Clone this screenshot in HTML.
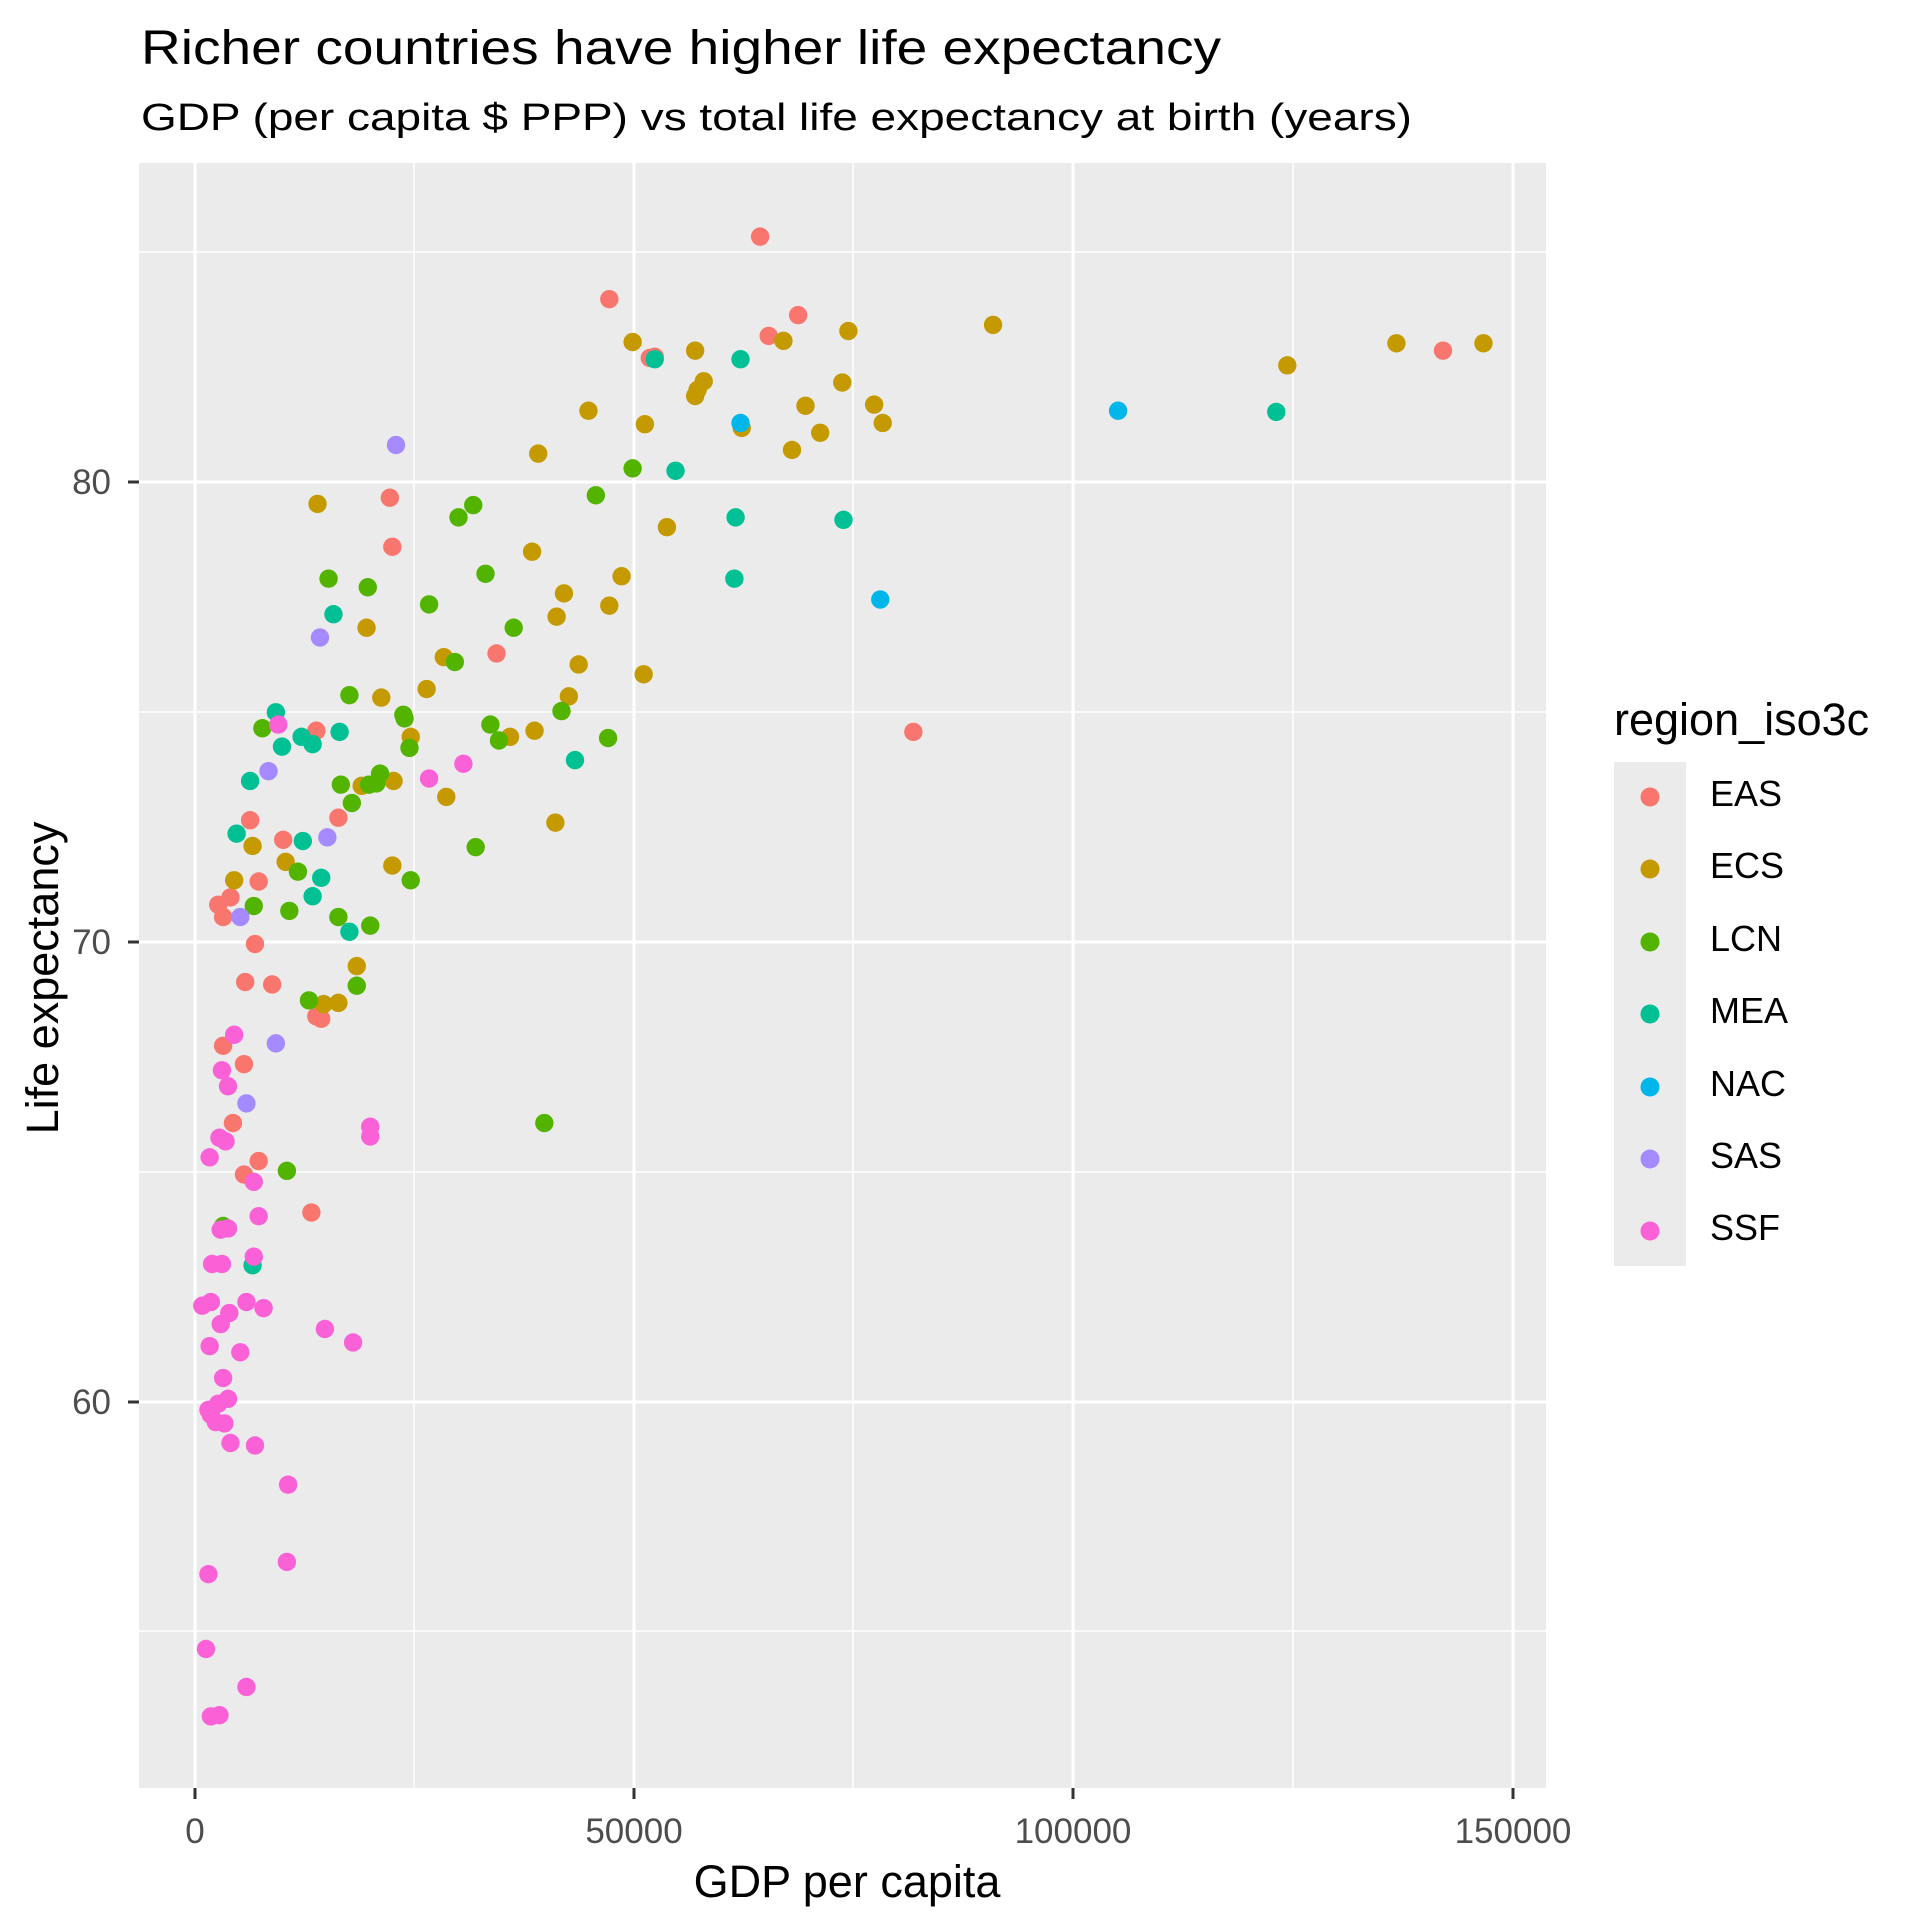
<!DOCTYPE html>
<html><head><meta charset="utf-8"><style>body{margin:0;background:#fff}svg{display:block}text{font-family:"Liberation Sans",sans-serif}</style></head><body>
<svg width="1920" height="1920" viewBox="0 0 1920 1920" xmlns="http://www.w3.org/2000/svg">
<rect width="1920" height="1920" fill="#fff"/>
<text x="141" y="64" font-size="48" fill="#000" textLength="1080" lengthAdjust="spacingAndGlyphs">Richer countries have higher life expectancy</text>
<text x="141" y="130" font-size="38" fill="#000" textLength="1271" lengthAdjust="spacingAndGlyphs">GDP (per capita $ PPP) vs total life expectancy at birth (years)</text>
<rect x="139" y="163" width="1407" height="1625" fill="#EBEBEB"/>
<g stroke="#fff" stroke-width="1.5">
<line x1="139" x2="1546" y1="252" y2="252"/><line x1="139" x2="1546" y1="712" y2="712"/><line x1="139" x2="1546" y1="1172" y2="1172"/><line x1="139" x2="1546" y1="1631" y2="1631"/>
<line y1="163" y2="1788" x1="414" x2="414"/><line y1="163" y2="1788" x1="853" x2="853"/><line y1="163" y2="1788" x1="1293" x2="1293"/>
</g>
<g stroke="#fff" stroke-width="3">
<line x1="139" x2="1546" y1="482" y2="482"/><line x1="139" x2="1546" y1="942" y2="942"/><line x1="139" x2="1546" y1="1402" y2="1402"/>
<line y1="163" y2="1788" x1="195" x2="195"/><line y1="163" y2="1788" x1="634" x2="634"/><line y1="163" y2="1788" x1="1073" x2="1073"/><line y1="163" y2="1788" x1="1513" x2="1513"/>
</g>
<g stroke="#333" stroke-width="3">
<line x1="128" x2="139" y1="482" y2="482"/><line x1="128" x2="139" y1="942" y2="942"/><line x1="128" x2="139" y1="1402" y2="1402"/>
<line y1="1788" y2="1799" x1="195" x2="195"/><line y1="1788" y2="1799" x1="634" x2="634"/><line y1="1788" y2="1799" x1="1073" x2="1073"/><line y1="1788" y2="1799" x1="1513" x2="1513"/>
</g>
<g font-size="35" fill="#4D4D4D" text-anchor="end">
<text x="111" y="494">80</text><text x="111" y="954">70</text><text x="111" y="1414">60</text>
</g>
<g font-size="35" fill="#4D4D4D" text-anchor="middle">
<text x="195" y="1843">0</text><text x="634" y="1843">50000</text><text x="1073" y="1843">100000</text><text x="1513" y="1843">150000</text>
</g>
<text x="847" y="1897" font-size="45" text-anchor="middle">GDP per capita</text>
<text transform="translate(58,978) rotate(-90)" font-size="45" text-anchor="middle">Life expectancy</text>
<text x="1614" y="735" font-size="45">region_iso3c</text>
<rect x="1614" y="762" width="72" height="504" fill="#EBEBEB"/>
<g font-size="36">
<circle cx="1650" cy="797" r="9.5" fill="#F8766D"/><text x="1710" y="806">EAS</text>
<circle cx="1650" cy="869" r="9.5" fill="#C49A00"/><text x="1710" y="878">ECS</text>
<circle cx="1650" cy="942" r="9.5" fill="#53B400"/><text x="1710" y="951">LCN</text>
<circle cx="1650" cy="1014" r="9.5" fill="#00C094"/><text x="1710" y="1023">MEA</text>
<circle cx="1650" cy="1087" r="9.5" fill="#00B6EB"/><text x="1710" y="1096">NAC</text>
<circle cx="1650" cy="1159" r="9.5" fill="#A58AFF"/><text x="1710" y="1168">SAS</text>
<circle cx="1650" cy="1231" r="9.5" fill="#FB61D7"/><text x="1710" y="1240">SSF</text>
</g>
<g transform="scale(1.226)">
<g fill="#F8766D">
<circle cx="620" cy="193" r="7.5"/><circle cx="497" cy="244" r="7.5"/><circle cx="651" cy="257" r="7.5"/><circle cx="627" cy="274" r="7.5"/><circle cx="530" cy="292" r="7.5"/><circle cx="534" cy="291" r="7.5"/><circle cx="1177" cy="286" r="7.5"/><circle cx="318" cy="406" r="7.5"/><circle cx="320" cy="446" r="7.5"/><circle cx="405" cy="533" r="7.5"/><circle cx="745" cy="597" r="7.5"/><circle cx="258" cy="596" r="7.5"/><circle cx="204" cy="669" r="7.5"/><circle cx="231" cy="685" r="7.5"/><circle cx="211" cy="719" r="7.5"/><circle cx="276" cy="667" r="7.5"/><circle cx="178" cy="738" r="7.5"/><circle cx="182" cy="748" r="7.5"/><circle cx="188" cy="732" r="7.5"/><circle cx="208" cy="770" r="7.5"/><circle cx="200" cy="801" r="7.5"/><circle cx="222" cy="803" r="7.5"/><circle cx="258" cy="829" r="7.5"/><circle cx="262" cy="831" r="7.5"/><circle cx="182" cy="853" r="7.5"/><circle cx="199" cy="868" r="7.5"/><circle cx="211" cy="947" r="7.5"/><circle cx="190" cy="916" r="7.5"/><circle cx="199" cy="958" r="7.5"/><circle cx="254" cy="989" r="7.5"/>
</g>
<g fill="#C49A00">
<circle cx="516" cy="279" r="7.5"/><circle cx="567" cy="286" r="7.5"/><circle cx="639" cy="278" r="7.5"/><circle cx="692" cy="270" r="7.5"/><circle cx="810" cy="265" r="7.5"/><circle cx="1139" cy="280" r="7.5"/><circle cx="1210" cy="280" r="7.5"/><circle cx="1050" cy="298" r="7.5"/><circle cx="574" cy="311" r="7.5"/><circle cx="569" cy="318" r="7.5"/><circle cx="567" cy="323" r="7.5"/><circle cx="687" cy="312" r="7.5"/><circle cx="713" cy="330" r="7.5"/><circle cx="657" cy="331" r="7.5"/><circle cx="480" cy="335" r="7.5"/><circle cx="526" cy="346" r="7.5"/><circle cx="605" cy="349" r="7.5"/><circle cx="720" cy="345" r="7.5"/><circle cx="669" cy="353" r="7.5"/><circle cx="646" cy="367" r="7.5"/><circle cx="439" cy="370" r="7.5"/><circle cx="259" cy="411" r="7.5"/><circle cx="544" cy="430" r="7.5"/><circle cx="434" cy="450" r="7.5"/><circle cx="507" cy="470" r="7.5"/><circle cx="460" cy="484" r="7.5"/><circle cx="454" cy="503" r="7.5"/><circle cx="497" cy="494" r="7.5"/><circle cx="299" cy="512" r="7.5"/><circle cx="362" cy="536" r="7.5"/><circle cx="472" cy="542" r="7.5"/><circle cx="348" cy="562" r="7.5"/><circle cx="525" cy="550" r="7.5"/><circle cx="311" cy="569" r="7.5"/><circle cx="464" cy="568" r="7.5"/><circle cx="335" cy="601" r="7.5"/><circle cx="416" cy="601" r="7.5"/><circle cx="436" cy="596" r="7.5"/><circle cx="321" cy="637" r="7.5"/><circle cx="295" cy="641" r="7.5"/><circle cx="364" cy="650" r="7.5"/><circle cx="453" cy="671" r="7.5"/><circle cx="206" cy="690" r="7.5"/><circle cx="191" cy="718" r="7.5"/><circle cx="233" cy="703" r="7.5"/><circle cx="320" cy="706" r="7.5"/><circle cx="291" cy="788" r="7.5"/><circle cx="276" cy="818" r="7.5"/><circle cx="264" cy="819" r="7.5"/>
</g>
<g fill="#53B400">
<circle cx="516" cy="382" r="7.5"/><circle cx="486" cy="404" r="7.5"/><circle cx="386" cy="412" r="7.5"/><circle cx="374" cy="422" r="7.5"/><circle cx="396" cy="468" r="7.5"/><circle cx="350" cy="493" r="7.5"/><circle cx="268" cy="472" r="7.5"/><circle cx="300" cy="479" r="7.5"/><circle cx="371" cy="540" r="7.5"/><circle cx="419" cy="512" r="7.5"/><circle cx="285" cy="567" r="7.5"/><circle cx="329" cy="583" r="7.5"/><circle cx="330" cy="586" r="7.5"/><circle cx="334" cy="610" r="7.5"/><circle cx="310" cy="631" r="7.5"/><circle cx="307" cy="639" r="7.5"/><circle cx="301" cy="640" r="7.5"/><circle cx="278" cy="640" r="7.5"/><circle cx="287" cy="655" r="7.5"/><circle cx="214" cy="594" r="7.5"/><circle cx="458" cy="580" r="7.5"/><circle cx="496" cy="602" r="7.5"/><circle cx="400" cy="591" r="7.5"/><circle cx="407" cy="604" r="7.5"/><circle cx="388" cy="691" r="7.5"/><circle cx="335" cy="718" r="7.5"/><circle cx="243" cy="711" r="7.5"/><circle cx="236" cy="743" r="7.5"/><circle cx="207" cy="739" r="7.5"/><circle cx="276" cy="748" r="7.5"/><circle cx="302" cy="755" r="7.5"/><circle cx="252" cy="816" r="7.5"/><circle cx="291" cy="804" r="7.5"/><circle cx="444" cy="916" r="7.5"/><circle cx="234" cy="955" r="7.5"/><circle cx="182" cy="1000" r="7.5"/>
</g>
<g fill="#00C094">
<circle cx="534" cy="293" r="7.5"/><circle cx="604" cy="293" r="7.5"/><circle cx="1041" cy="336" r="7.5"/><circle cx="551" cy="384" r="7.5"/><circle cx="600" cy="422" r="7.5"/><circle cx="688" cy="424" r="7.5"/><circle cx="599" cy="472" r="7.5"/><circle cx="272" cy="501" r="7.5"/><circle cx="225" cy="581" r="7.5"/><circle cx="277" cy="597" r="7.5"/><circle cx="246" cy="601" r="7.5"/><circle cx="255" cy="607" r="7.5"/><circle cx="230" cy="609" r="7.5"/><circle cx="204" cy="637" r="7.5"/><circle cx="193" cy="680" r="7.5"/><circle cx="247" cy="686" r="7.5"/><circle cx="262" cy="716" r="7.5"/><circle cx="255" cy="731" r="7.5"/><circle cx="285" cy="760" r="7.5"/><circle cx="469" cy="620" r="7.5"/><circle cx="206" cy="1032" r="7.5"/>
</g>
<g fill="#00B6EB">
<circle cx="604" cy="345" r="7.5"/><circle cx="912" cy="335" r="7.5"/><circle cx="718" cy="489" r="7.5"/>
</g>
<g fill="#A58AFF">
<circle cx="323" cy="363" r="7.5"/><circle cx="261" cy="520" r="7.5"/><circle cx="219" cy="629" r="7.5"/><circle cx="267" cy="683" r="7.5"/><circle cx="196" cy="748" r="7.5"/><circle cx="225" cy="851" r="7.5"/><circle cx="201" cy="900" r="7.5"/>
</g>
<g fill="#FB61D7">
<circle cx="227" cy="591" r="7.5"/><circle cx="350" cy="635" r="7.5"/><circle cx="378" cy="623" r="7.5"/><circle cx="191" cy="844" r="7.5"/><circle cx="181" cy="873" r="7.5"/><circle cx="186" cy="886" r="7.5"/><circle cx="171" cy="944" r="7.5"/><circle cx="179" cy="928" r="7.5"/><circle cx="184" cy="931" r="7.5"/><circle cx="302" cy="919" r="7.5"/><circle cx="302" cy="927" r="7.5"/><circle cx="207" cy="964" r="7.5"/><circle cx="211" cy="992" r="7.5"/><circle cx="180" cy="1003" r="7.5"/><circle cx="186" cy="1002" r="7.5"/><circle cx="173" cy="1031" r="7.5"/><circle cx="181" cy="1031" r="7.5"/><circle cx="207" cy="1025" r="7.5"/><circle cx="172" cy="1062" r="7.5"/><circle cx="165" cy="1065" r="7.5"/><circle cx="201" cy="1062" r="7.5"/><circle cx="215" cy="1067" r="7.5"/><circle cx="187" cy="1071" r="7.5"/><circle cx="180" cy="1080" r="7.5"/><circle cx="171" cy="1098" r="7.5"/><circle cx="196" cy="1103" r="7.5"/><circle cx="265" cy="1084" r="7.5"/><circle cx="288" cy="1095" r="7.5"/><circle cx="182" cy="1124" r="7.5"/><circle cx="186" cy="1141" r="7.5"/><circle cx="178" cy="1145" r="7.5"/><circle cx="170" cy="1150" r="7.5"/><circle cx="172" cy="1154" r="7.5"/><circle cx="176" cy="1160" r="7.5"/><circle cx="183" cy="1161" r="7.5"/><circle cx="188" cy="1177" r="7.5"/><circle cx="208" cy="1179" r="7.5"/><circle cx="235" cy="1211" r="7.5"/><circle cx="234" cy="1274" r="7.5"/><circle cx="170" cy="1284" r="7.5"/><circle cx="168" cy="1345" r="7.5"/><circle cx="201" cy="1376" r="7.5"/><circle cx="172" cy="1400" r="7.5"/><circle cx="179" cy="1399" r="7.5"/>
</g>
</g>
</svg>
</body></html>
